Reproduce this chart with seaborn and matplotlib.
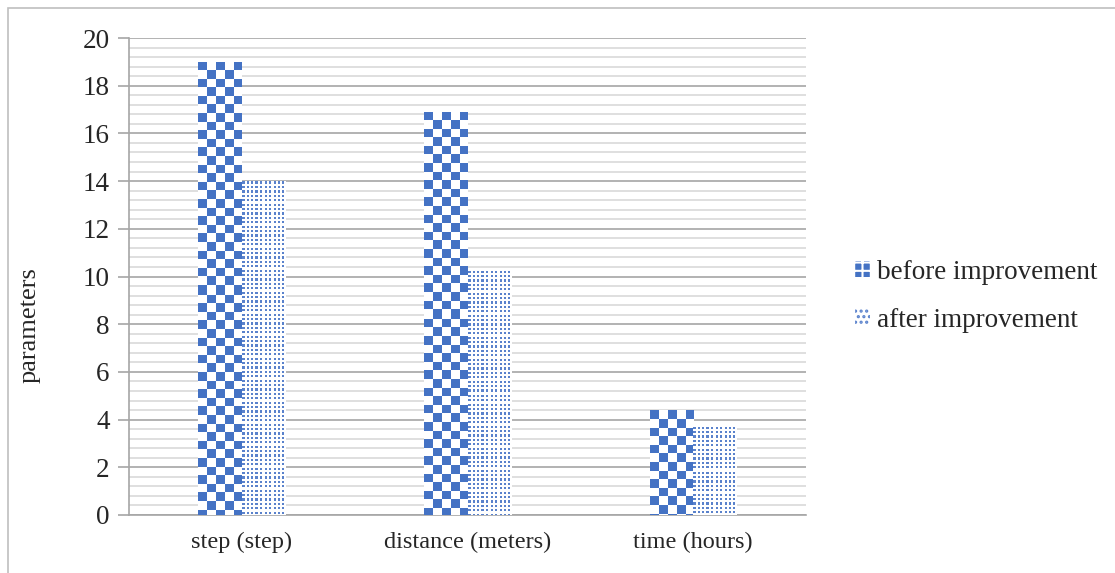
import numpy as np
import pandas as pd
import matplotlib
matplotlib.use("Agg")
import matplotlib.pyplot as plt
import seaborn as sns
from matplotlib.patches import Patch, Rectangle
from matplotlib.ticker import MultipleLocator

# data
categories = ["step (step)", "distance (meters)", "time (hours)"]
before = [19.0, 16.9, 4.4]
after = [14.0, 10.25, 3.7]
series = ["before improvement", "after improvement"]

df = pd.DataFrame({
    "category": categories * 2,
    "value": before + after,
    "condition": [series[0]] * 3 + [series[1]] * 3,
})

sns.set_style("white")
plt.rcParams["font.family"] = ["Liberation Serif", "DejaVu Serif"]
plt.rcParams["hatch.linewidth"] = 1.5

BLUE = "#4472C4"
DOT = "#5a82cc"

fig = plt.figure(figsize=(11.15, 5.73), dpi=100)
ax = fig.add_axes([129 / 1115, 58 / 573, 677 / 1115, 477 / 573])

sns.barplot(data=df, x="category", y="value", hue="condition",
            palette=["white", "white"], width=0.385, errorbar=None,
            legend=False, ax=ax, linewidth=0)

ax.set_xlim(-0.5, 2.5)
ax.set_ylim(0, 20)
ax.yaxis.set_major_locator(MultipleLocator(2))
ax.yaxis.set_minor_locator(MultipleLocator(0.4))
ax.grid(which="major", axis="y", color="#a6a6a6", linewidth=1.2)
ax.grid(which="minor", axis="y", color="#d9d9d9", linewidth=1.2)
ax.set_axisbelow(True)

for s in ["top", "right"]:
    ax.spines[s].set_visible(False)
for s in ["left", "bottom"]:
    ax.spines[s].set_color("#a6a6a6")
    ax.spines[s].set_linewidth(1.2)

ax.tick_params(axis="y", which="major", length=8, width=1.2, color="#a6a6a6",
               labelsize=19.5, pad=6, left=True)
ax.tick_params(axis="y", which="minor", length=0)
ax.tick_params(axis="x", length=0, labelsize=17.5, pad=12)
ax.set_xlabel("")
ax.set_ylabel("parameters", fontsize=19)
ax.yaxis.set_label_coords((41 - 129) / 677, (515 - 325) / 477)


def pattern(kind, pw, ph):
    img = np.ones((ph, pw, 3))
    rows, cols = np.mgrid[0:ph, 0:pw]
    if kind == 0:
        c = pw / 5.0
        mask = ((np.floor(cols / c) + np.floor(rows / c)) % 2) == 0
        img[mask] = matplotlib.colors.to_rgb(BLUE)
    else:
        p = pw / 10.0
        mask = ((cols % p) < 2.2) & ((rows % 4.4) < 2.2)
        img[mask] = matplotlib.colors.to_rgb(DOT)
    return img


# fill each bar with a checker / dot pattern clipped to the bar
px_per_x = 677 / 3.0
px_per_y = 477 / 20.0
for i, bar in enumerate(ax.patches):
    x0, y0 = bar.get_x(), bar.get_y()
    w, h = bar.get_width(), bar.get_height()
    if h <= 0:
        continue
    kind = 0 if i < 3 else 1
    pw = max(int(round(w * px_per_x)), 1)
    ph = max(int(round(h * px_per_y)), 1)
    im = ax.imshow(pattern(kind, pw, ph), extent=(x0, x0 + w, y0, y0 + h),
                   origin="upper", interpolation="nearest", aspect="auto",
                   zorder=3)
    im.set_clip_path(bar)

ax.set_xlim(-0.5, 2.5)
ax.set_ylim(0, 20)

handles = [
    Patch(facecolor=BLUE, edgecolor="white", hatch="++", linewidth=0),
    Patch(facecolor="white", edgecolor=DOT, hatch="...", linewidth=0),
]
fig.legend(handles, series, loc="center left", bbox_to_anchor=(0.745, 0.483),
           frameon=False, fontsize=19.5, handlelength=0.55, handleheight=0.55,
           handletextpad=0.25, labelspacing=0.85)

fig.patches.append(Rectangle((8 / 1115, -0.1), 1.2, 1.1 - 8 / 573,
                             transform=fig.transFigure, fill=False,
                             edgecolor="#bfbfbf", linewidth=1.2))

fig.savefig("out.png", dpi=100)
